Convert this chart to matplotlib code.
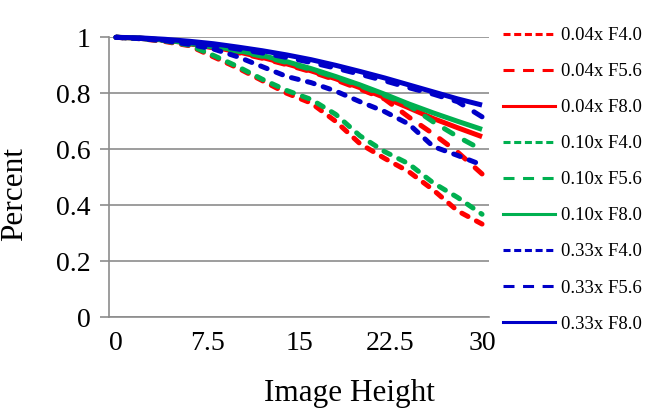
import matplotlib
matplotlib.use("Agg")
import matplotlib.pyplot as plt
from matplotlib.lines import Line2D

plt.rcParams['font.family'] = ['Liberation Serif', 'DejaVu Serif']

# image height positions
x = [0, 2, 4, 6, 8, 10, 12, 14, 16, 18, 20, 22, 24, 26, 28, 30]

# percent values per series
r_f40 = [1.0, 0.995, 0.985, 0.970, 0.930, 0.890, 0.845, 0.800, 0.765, 0.700, 0.620, 0.568, 0.520, 0.455, 0.380, 0.333]
r_f56 = [1.0, 0.996, 0.989, 0.977, 0.962, 0.945, 0.925, 0.902, 0.877, 0.848, 0.815, 0.780, 0.715, 0.655, 0.590, 0.512]
r_f80 = [1.0, 0.997, 0.990, 0.979, 0.965, 0.948, 0.928, 0.905, 0.880, 0.852, 0.820, 0.785, 0.748, 0.710, 0.677, 0.645]
g_f40 = [1.0, 0.996, 0.987, 0.972, 0.935, 0.895, 0.850, 0.810, 0.778, 0.725, 0.648, 0.592, 0.548, 0.480, 0.428, 0.368]
g_f56 = [1.0, 0.996, 0.989, 0.978, 0.965, 0.950, 0.932, 0.910, 0.885, 0.857, 0.827, 0.793, 0.757, 0.698, 0.645, 0.598]
g_f80 = [1.0, 0.997, 0.990, 0.980, 0.968, 0.953, 0.935, 0.913, 0.888, 0.860, 0.830, 0.797, 0.762, 0.730, 0.700, 0.671]
b_f40 = [1.0, 0.995, 0.988, 0.975, 0.958, 0.930, 0.895, 0.860, 0.838, 0.808, 0.770, 0.735, 0.690, 0.610, 0.578, 0.544]
b_f56 = [1.0, 0.996, 0.990, 0.982, 0.972, 0.958, 0.944, 0.928, 0.910, 0.890, 0.868, 0.845, 0.820, 0.797, 0.770, 0.716]
b_f80 = [1.0, 0.998, 0.993, 0.986, 0.977, 0.965, 0.952, 0.937, 0.920, 0.900, 0.878, 0.855, 0.830, 0.805, 0.780, 0.758]

labels = ['0.04x F4.0', '0.04x F5.6', '0.04x F8.0',
          '0.10x F4.0', '0.10x F5.6', '0.10x F8.0',
          '0.33x F4.0', '0.33x F5.6', '0.33x F8.0']
series = [r_f40, r_f56, r_f80, g_f40, g_f56, g_f80, b_f40, b_f56, b_f80]

xticks = [0, 7.5, 15, 22.5, 30]
xticklabels = ['0', '7.5', '15', '22.5', '30']
yticks = [0, 0.2, 0.4, 0.6, 0.8, 1]
yticklabels = ['0', '0.2', '0.4', '0.6', '0.8', '1']

red = '#ff0000'
green = '#00b050'
blue = '#0000c8'
colors = [red, red, red, green, green, green, blue, blue, blue]
plot_dash = [(0, (1.4, 1.9)), (0, (2.0, 2.6)), '-'] * 3
leg_dash = [(0, (2.3, 1.2)), (0, (3.6, 2.8)), '-'] * 3

fig = plt.figure(figsize=(6.57, 4.19), dpi=100)
ax = fig.add_axes([109 / 657, 101.7 / 419, 380 / 657, 280 / 419])

for ys, c, ls in zip(series, colors, plot_dash):
    line, = ax.plot(x, ys, color=c, lw=3.6, linestyle=ls, clip_on=False)
    if ls != '-':
        line.set_dash_capstyle('round')
    line.set_solid_capstyle('butt')

ax.set_xlim(-0.57, 30.57)
ax.set_ylim(0, 1)
ax.set_xticks(xticks)
ax.set_xticklabels(xticklabels)
ax.set_yticks(yticks)
ax.set_yticklabels(yticklabels)

gray = '#8c8c8c'
ax.yaxis.grid(True, color=gray, lw=1.2)
ax.set_axisbelow(True)
for s in ['top', 'right']:
    ax.spines[s].set_visible(False)
for s in ['left', 'bottom']:
    ax.spines[s].set_color(gray)
    ax.spines[s].set_linewidth(1.2)
ax.tick_params(axis='y', length=6.5, width=1.2, color=gray, pad=6.5, labelsize=20)
ax.tick_params(axis='x', length=0, pad=10, labelsize=20)

fig.text(349.5 / 657, 1 - 401 / 419, 'Image Height', fontsize=22.5,
         ha='center', va='baseline')
fig.text(15 / 657, 1 - 194 / 419, 'Percent', fontsize=22.5, rotation=90,
         ha='center', va='center')

handles = [Line2D([0], [0], color=c, lw=2.2, linestyle=ls)
           for c, ls in zip(colors, leg_dash)]
fig.legend(handles, labels, loc='upper left',
           bbox_to_anchor=(503 / 657, 1 - 27 / 419), frameon=False,
           fontsize=13.5, handlelength=2.77, handletextpad=0.32,
           labelspacing=1.01, borderaxespad=0, borderpad=0)

fig.savefig('out.png', dpi=100)
